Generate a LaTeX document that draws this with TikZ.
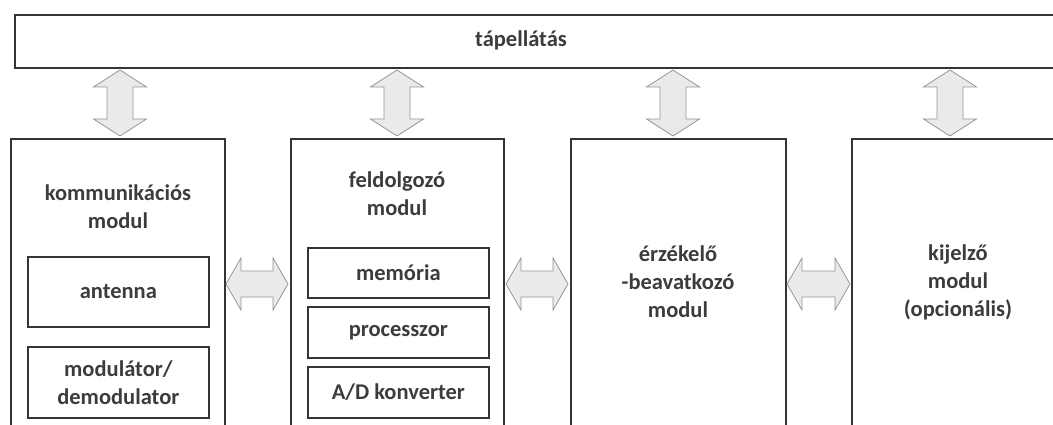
\documentclass[tikz,border=0pt]{standalone}
\usepackage{fontspec}
\setmainfont{Carlito}
\definecolor{ln}{RGB}{52,52,52}
\definecolor{tx}{RGB}{60,60,60}
\definecolor{af}{RGB}{234,234,234}
\definecolor{ad}{RGB}{150,150,150}
\begin{document}
\begin{tikzpicture}[x=1pt,y=-1pt,
  modbox/.style={draw=ln,line width=2pt,fill=white,anchor=north west,inner sep=0pt},
  subbox/.style={draw=ln,line width=1.7pt,anchor=north west,inner sep=0pt,minimum width=181pt},
  lbl/.style={text=tx,font=\fontsize{22.5}{28}\selectfont\bfseries,align=center,inner sep=0pt},
  arr/.style={draw=ad,fill=af,line width=0.8pt,line join=miter}]
\useasboundingbox (0,0) rectangle (1053,425);
\clip (0,0) rectangle (1053,425);
\fill[white] (0,0) rectangle (1053,425);
% power bar
\node[modbox,minimum width=1060pt,minimum height=53pt] (bar) at (14,14) {};
\node[lbl] (barl) at (521,40) {tápellátás};
% modules
\node[modbox,minimum width=214pt,minimum height=300pt] (m1) at (10,138) {};
\node[modbox,minimum width=213pt,minimum height=300pt] (m2) at (290,138) {};
\node[modbox,minimum width=215pt,minimum height=300pt] (m3) at (570,138) {};
\node[modbox,minimum width=215pt,minimum height=300pt] (m4) at (851,138) {};
% module titles
\node[lbl] (t1) at (118,207) {kommunikációs\\modul};
\node[lbl] (t2) at (397,194) {feldolgozó\\modul};
\node[lbl] (t3) at (678,282) {érzékelő\\-beavatkozó\\modul};
\node[lbl] (t4) at (958,282) {kijelző\\modul\\(opcionális)};
% sub boxes
\node[subbox,minimum height=70pt] (s1) at (27,256) {};
\node[lbl] at (s1.center) {antenna};
\node[subbox,minimum height=71pt] (s2) at (27,346) {};
\node[lbl] at (s2.center) {modulátor/\\demodulator};
\node[subbox,minimum height=50pt] (s3) at (307,247) {};
\node[lbl] at (s3.center) {memória};
\node[subbox,minimum height=51pt] (s4) at (307,306) {};
\node[lbl] at (s4.center) {processzor};
\node[subbox,minimum height=51pt] (s5) at (307,366) {};
\node[lbl] at (s5.center) {A/D konverter};
% vertical double arrows
\foreach \c in {120,397,673,950}{
  \draw[arr] (\c,70) -- ({\c+26.5},87) -- ({\c+13},87) -- ({\c+13},119) -- ({\c+26.5},119)
    -- (\c,136) -- ({\c-26.5},119) -- ({\c-13},119) -- ({\c-13},87) -- ({\c-26.5},87) -- cycle;
}
% horizontal double arrows
\foreach \a/\b in {226/288,506/568,787/850}{
  \draw[arr] (\a,284) -- ({\a+15},258) -- ({\a+15},271) -- ({\b-15},271) -- ({\b-15},258)
    -- (\b,284) -- ({\b-15},310) -- ({\b-15},297) -- ({\a+15},297) -- ({\a+15},310) -- cycle;
}
\end{tikzpicture}
\end{document}
